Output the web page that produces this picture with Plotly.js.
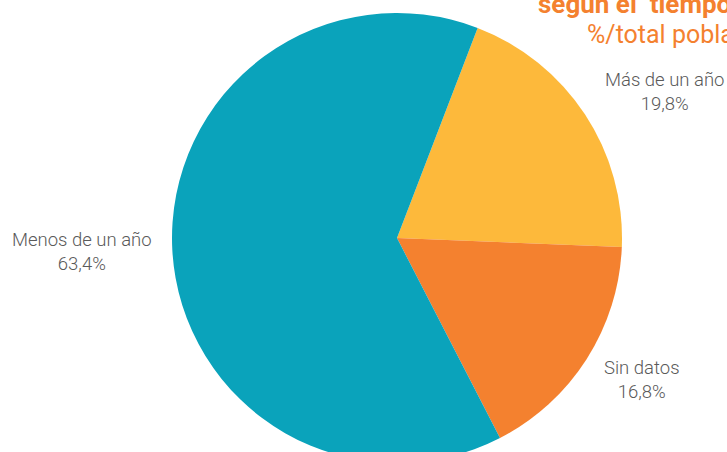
<!DOCTYPE html>
<html><head><meta charset="utf-8">
<script src="https://cdn.plot.ly/plotly-3.0.1.min.js"></script>
<style>html,body{margin:0;padding:0;overflow:hidden;background:#fff}</style>
</head><body><div id="chart" style="width:727px;height:480px"></div>
<script>
const categories = ["Más de un año", "Sin datos", "Menos de un año"];
const values = [19.8, 16.8, 63.4];
const colors = ["#fdb93b", "#f4812f", "#0aa3bb"];
const titleLine1 = "según el  tiempo de residencia";
const titleLine2 = "%/total población";

const W = 727, H = 480;
const fmt = v => v.toFixed(1).replace('.', ',') + '%';
const labelPos = [[664, 92], [642, 380], [82, 252]];

const annotations = categories.map((c, i) => ({
  text: c + '<br>' + fmt(values[i]),
  x: labelPos[i][0] / W, y: 1 - labelPos[i][1] / H,
  xref: 'paper', yref: 'paper', xanchor: 'center', yanchor: 'middle',
  showarrow: false, align: 'center',
  font: {family: 'Roboto', size: 18.5, color: '#5a5a5a', weight: 300}
}));
annotations.push({
  text: titleLine1, x: 536 / W, y: 1 - 4 / H, xref: 'paper', yref: 'paper',
  xanchor: 'left', yanchor: 'middle', showarrow: false,
  font: {family: 'Roboto', size: 26, color: '#f4812f', weight: 700}
});
annotations.push({
  text: titleLine2, x: 585 / W, y: 1 - 35 / H, xref: 'paper', yref: 'paper',
  xanchor: 'left', yanchor: 'middle', showarrow: false,
  font: {family: 'Roboto', size: 25, color: '#f4812f', weight: 400}
});

Plotly.newPlot('chart', [{
  type: 'pie',
  labels: categories,
  values: values,
  marker: {colors: colors, line: {width: 0}},
  sort: false,
  direction: 'clockwise',
  rotation: 21,
  textinfo: 'none',
  hoverinfo: 'none',
  domain: {x: [172 / W, 622 / W], y: [(H - 463) / H, (H - 13) / H]}
}], {
  width: W, height: H,
  margin: {l: 0, r: 0, t: 0, b: 0},
  showlegend: false,
  paper_bgcolor: '#fff',
  annotations: annotations
}, {displayModeBar: false, staticPlot: true});
</script></body></html>
